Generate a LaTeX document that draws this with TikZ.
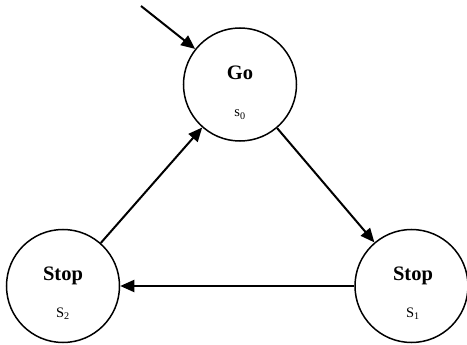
\documentclass[tikz,border=0pt]{standalone}
\usepackage{fontspec}
\setmainfont{Liberation Serif}
\usetikzlibrary{arrows.meta}
\begin{document}
\begin{tikzpicture}[x=1pt,y=-1pt,
  state/.style={draw,circle,line width=1.5pt,minimum size=113pt,inner sep=0pt},
  title/.style={font=\fontsize{20.5}{24}\selectfont\bfseries,anchor=base,inner sep=0pt},
  sub/.style={font=\fontsize{14.5}{16}\selectfont,anchor=base,inner sep=0pt},
  edge/.style={line width=2pt,-{Triangle[length=14pt,width=12pt]}}]
\useasboundingbox (0,0) rectangle (467,345);
\node[state] (go) at (240,84.5) {};
\node[state] (s2) at (63,286) {};
\node[state] (s1) at (411.5,286) {};
\node[title] (got) at (240,79.5) {Go};
\node[sub] (gos) at (240,117) {s\textsubscript{0}};
\node[title] (s2t) at (63,281) {Stop};
\node[sub] (s2s) at (63,317.5) {S\textsubscript{2}};
\node[title] (s1t) at (413,281) {Stop};
\node[sub] (s1s) at (413,317.5) {S\textsubscript{1}};
\coordinate (init) at (141,6);
\draw[edge] (init) -- (go);
\draw[edge] (go) -- (s1);
\draw[edge] (s1) -- (s2);
\draw[edge] (s2) -- (go);
\end{tikzpicture}
\end{document}
